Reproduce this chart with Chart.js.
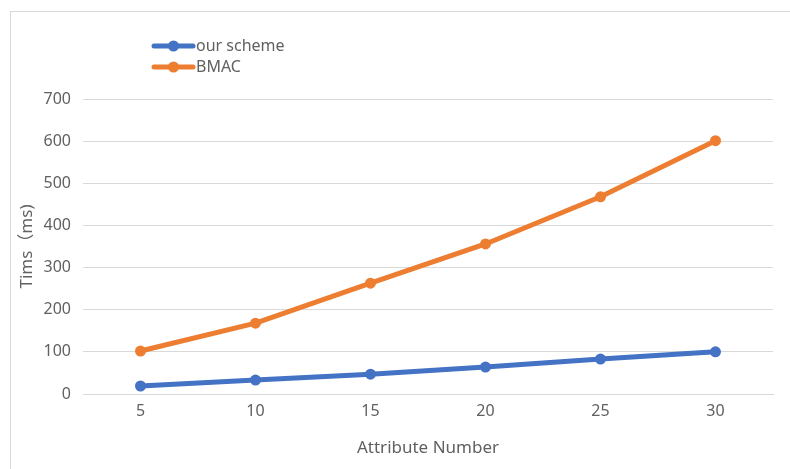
<!DOCTYPE html>
<html>
<head>
<meta charset="utf-8">
<script src="https://cdn.jsdelivr.net/npm/chart.js@4/dist/chart.umd.min.js"></script>
<style>
  html, body { margin: 0; padding: 0; background: #fff; }
  #wrap { position: relative; width: 790px; height: 469px; overflow: hidden; }
  #frame { position: absolute; left: 10px; top: 11px; width: 800px; height: 480px;
           border-top: 1px solid #d9d9d9; border-left: 1px solid #d9d9d9; box-sizing: border-box; }
  #c { position: absolute; left: 0; top: 0; }
</style>
</head>
<body>
<div id="wrap">
  <div id="frame"></div>
  <canvas id="c" width="790" height="469"></canvas>
</div>
<script>
// values
const categories = ['5', '10', '15', '20', '25', '30'];
const ourScheme = [19, 33, 47, 64, 83, 100];
const bmac = [102, 168, 263, 356, 468, 601];
const seriesNames = ['our scheme', 'BMAC'];
const seriesColors = ['#4472C4', '#ED7D31'];

const FONT = '"Noto Sans", "Noto Sans CJK SC", sans-serif';
const GREY = '#616161';

// draws the Excel style legend (line with a dot) in the top left corner
const lineLegend = {
  id: 'lineLegend',
  afterDraw(chart, args, opts) {
    const ctx = chart.ctx;
    ctx.save();
    chart.data.datasets.forEach((ds, i) => {
      const y = opts.y + i * opts.gap;
      ctx.strokeStyle = ds.borderColor;
      ctx.lineWidth = ds.borderWidth;
      ctx.lineCap = 'round';
      ctx.beginPath();
      ctx.moveTo(opts.x, y);
      ctx.lineTo(opts.x + opts.len, y);
      ctx.stroke();
      ctx.fillStyle = ds.borderColor;
      ctx.beginPath();
      ctx.arc(opts.x + opts.len / 2, y, ds.pointRadius, 0, Math.PI * 2);
      ctx.fill();
      ctx.fillStyle = GREY;
      ctx.font = '16px ' + FONT;
      ctx.textBaseline = 'middle';
      ctx.fillText(ds.label, opts.x + opts.len + 3, y);
    });
    ctx.restore();
  }
};

new Chart(document.getElementById('c').getContext('2d'), {
  type: 'line',
  data: {
    labels: categories,
    datasets: [ourScheme, bmac].map((d, i) => ({
      label: seriesNames[i],
      data: d,
      borderColor: seriesColors[i],
      backgroundColor: seriesColors[i],
      borderWidth: 5,
      pointRadius: 5.5,
      pointBorderWidth: 0,
      tension: 0
    }))
  },
  options: {
    responsive: false,
    animation: false,
    layout: { padding: { top: 99, right: 17, left: 0, bottom: 0 } },
    plugins: {
      legend: { display: false },
      tooltip: { enabled: false },
      lineLegend: { x: 154, y: 46, gap: 21, len: 39 }
    },
    scales: {
      x: {
        offset: true,
        grid: { display: false, drawTicks: false },
        border: { color: '#d9d9d9', width: 1 },
        ticks: { color: GREY, font: { family: FONT, size: 16 }, padding: 8 },
        title: { display: true, text: 'Attribute Number', color: GREY,
                 font: { family: FONT, size: 17 }, padding: { top: 8, bottom: 11 } },
        afterFit: s => { s.height = 75; }
      },
      y: {
        min: 0, max: 700,
        ticks: { stepSize: 100, color: GREY, font: { family: FONT, size: 16 }, padding: 12 },
        grid: { color: '#d9d9d9', drawTicks: false },
        border: { display: false },
        title: { display: true, text: 'Tims（ms)', color: GREY,
                 font: { family: FONT, size: 17 }, padding: { top: 17, bottom: 0 } },
        afterFit: s => { s.width = 83; }
      }
    }
  },
  plugins: [lineLegend]
});
</script>
</body>
</html>
